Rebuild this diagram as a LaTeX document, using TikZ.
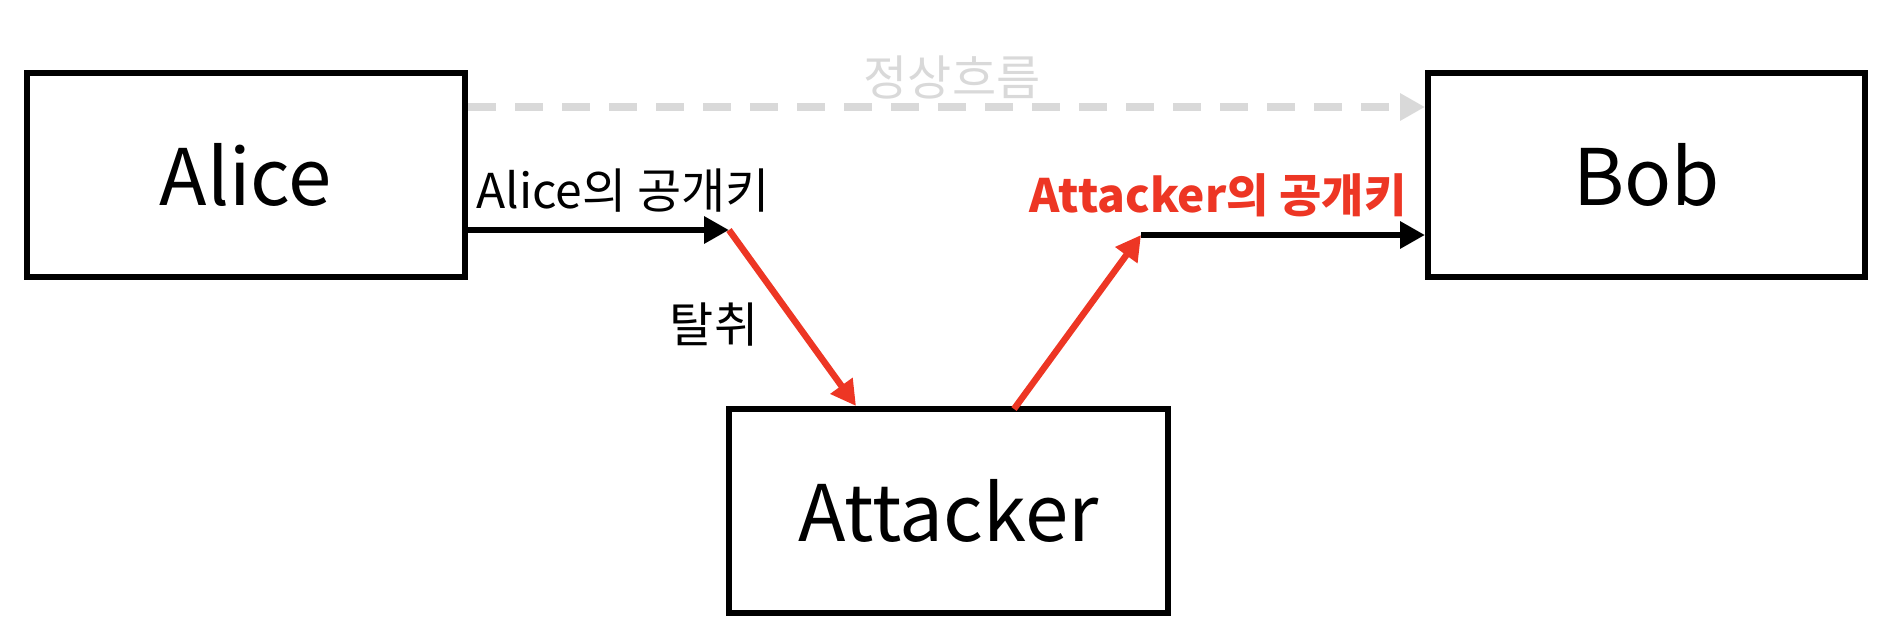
\documentclass[tikz,border=0pt]{standalone}
\usepackage{fontspec}
\setmainfont{Noto Sans CJK KR}
\usetikzlibrary{arrows.meta}
\definecolor{atkred}{HTML}{ED3624}
\definecolor{flowgray}{HTML}{D9D9D9}
\tikzset{
  box/.style={draw=black, line width=6.5pt, inner sep=0pt, outer sep=0pt,
    minimum width=438pt, minimum height=204pt, font=\fontsize{78}{94}\selectfont},
  lbl/.style={inner sep=0pt, font=\fontsize{48}{56}\selectfont},
  tip/.style={-{Triangle[length=25pt,width=26pt]}},
  blkarrow/.style={tip, draw=black, line width=6.5pt},
  redarrow/.style={tip, draw=atkred, line width=6.5pt},
  grayarrow/.style={tip, draw=flowgray, line width=8pt, dash pattern=on 28pt off 19pt}
}
\begin{document}
\begin{tikzpicture}[x=1pt,y=-1pt]
\useasboundingbox (0,0) rectangle (1886,632);
\node[box] (alice) at (246,175) {Alice};
\node[box, minimum width=437pt] (bob) at (1646.5,175) {Bob};
\node[box, minimum width=439pt] (attacker) at (948.5,511) {Attacker};
\coordinate (p1) at (729,230);
\coordinate (p2) at (1141,235);
\coordinate (g1) at ([yshift=-34pt]alice.north east);
% normal flow
\draw[grayarrow, shorten >=3pt] ([xshift=3pt]g1) -- (g1 -| bob.west);
\node[lbl, text=flowgray, anchor=base] (flow) at (952,95) {정상흐름};
% Alice -> intercept point
\draw[blkarrow] (p1 -| alice.east) -- (p1);
\node[lbl, anchor=base west] (akey) at (476,208) {Alice의 공개키};
% intercept
\draw[redarrow] (p1) -- ([xshift=127pt,yshift=3pt]attacker.north west);
\node[lbl, anchor=base] (steal) at (714,342) {탈취};
% attacker -> Bob
\draw[redarrow] ([xshift=285pt]attacker.north west) -- (p2);
\draw[blkarrow, shorten >=3pt] (p2) -- (p2 -| bob.west);
\node[lbl, text=atkred, anchor=base, font=\fontsize{46}{54}\selectfont\bfseries] (bkey) at (1218,212) {Attacker의 공개키};
\end{tikzpicture}
\end{document}
